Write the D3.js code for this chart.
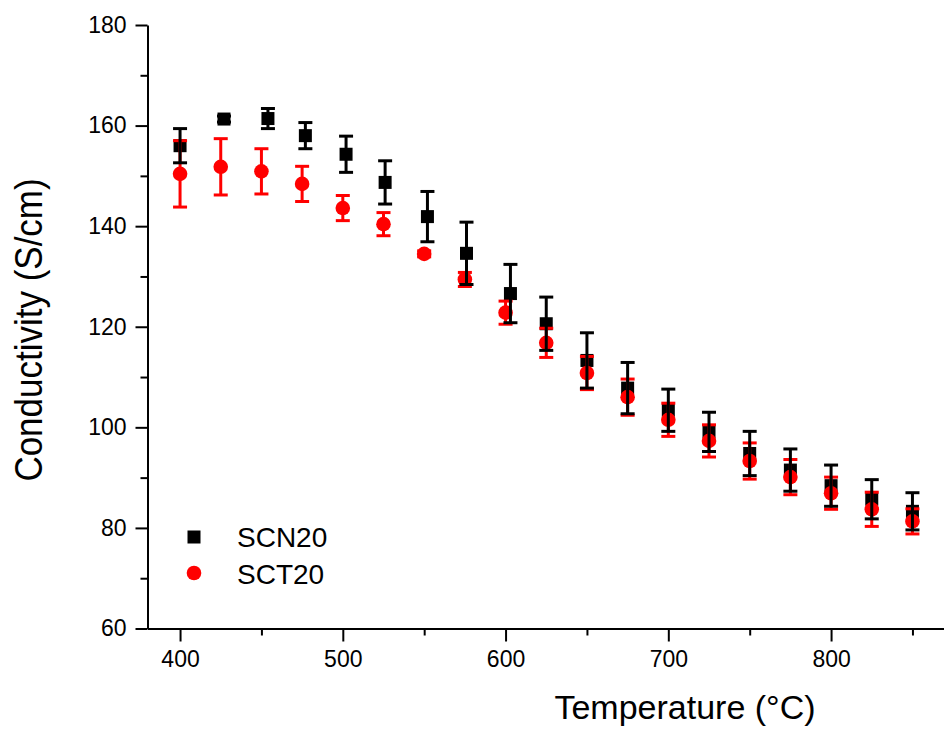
<!DOCTYPE html>
<html lang="en">
<head>
<meta charset="UTF-8">
<title>Conductivity</title>
<script src="https://cdn.jsdelivr.net/npm/d3@7"></script>
<style>
  body { margin: 0; background: #fff; }
  svg text { font-family: "Liberation Sans", Arial, sans-serif; fill: #000; }
</style>
</head>
<body>
<svg width="944" height="729"></svg>
<script>
// data
var tempSCN = [400, 427, 454, 477, 502, 526, 552, 576, 603, 625, 650, 675, 700, 725, 750, 775, 800, 825, 850];
var condSCN = [156.0, 161.3, 161.4, 158.0, 154.3, 148.7, 141.9, 134.6, 126.6, 120.6, 113.3, 107.8, 103.4, 99.1, 94.8, 91.5, 88.4, 85.7, 83.3];
var errSCN  = [3.4, 0.6, 2.0, 2.6, 3.6, 4.3, 5.0, 6.2, 5.8, 5.3, 5.5, 5.1, 4.2, 3.9, 4.4, 4.2, 4.1, 3.9, 3.7];

var tempSCT = [400, 425, 450, 475, 500, 525, 550, 575, 600, 625, 650, 675, 700, 725, 750, 775, 800, 825, 850];
var condSCT = [150.4, 151.8, 150.9, 148.4, 143.6, 140.4, 134.5, 129.4, 122.8, 116.8, 110.8, 106.0, 101.5, 97.3, 93.3, 90.1, 86.9, 83.7, 81.3];
var errSCT  = [6.6, 5.6, 4.5, 3.5, 2.5, 2.3, 0.6, 1.4, 2.3, 2.9, 3.3, 3.6, 3.3, 3.2, 3.6, 3.5, 3.2, 3.4, 2.5];

var xTicks = [400, 500, 600, 700, 800];
var xMinor = [450, 550, 650, 750, 850];
var yTicks = [60, 80, 100, 120, 140, 160, 180];
var yMinor = [70, 90, 110, 130, 150, 170];

var svg = d3.select('svg');

var x = d3.scaleLinear().domain([380, 870]).range([147.5, 945]);
var y = d3.scaleLinear().domain([60, 180]).range([628.5, 25]);

// axes
var axisX = d3.axisBottom(x).tickValues(xTicks).tickSize(13).tickPadding(9).tickSizeOuter(0);
var axisY = d3.axisLeft(y).tickValues(yTicks).tickSize(12).tickPadding(9).tickSizeOuter(0);

var gx = svg.append('g').attr('transform', 'translate(0,' + y(60) + ')').call(axisX);
var gy = svg.append('g').attr('transform', 'translate(' + x(380) + ',0)').call(axisY);

gx.append('g').call(d3.axisBottom(x).tickValues(xMinor).tickSize(7).tickFormat('').tickSizeOuter(0))
  .select('.domain').remove();
gy.append('g').call(d3.axisLeft(y).tickValues(yMinor).tickSize(7).tickFormat('').tickSizeOuter(0))
  .select('.domain').remove();

svg.selectAll('.domain, .tick line').attr('stroke', '#000').attr('stroke-width', 2);
svg.selectAll('.tick text').attr('font-size', 23).attr('fill', '#000');

// axis titles
svg.append('text')
  .attr('x', 685).attr('y', 719)
  .attr('text-anchor', 'middle')
  .attr('font-size', 34)
  .text('Temperature (\u00B0C)');

svg.append('text')
  .attr('transform', 'translate(42,330) rotate(-90) scale(1,1.12)')
  .attr('text-anchor', 'middle')
  .attr('font-size', 35)
  .text('Conductivity (S/cm)');

// error bars
function errorBars(temps, vals, errs, color) {
  var g = svg.append('g').attr('stroke', color).attr('stroke-width', 3);
  temps.forEach(function (t, i) {
    var cx = x(t), top = y(vals[i] + errs[i]), bot = y(vals[i] - errs[i]);
    g.append('line').attr('x1', cx).attr('x2', cx).attr('y1', top).attr('y2', bot);
    g.append('line').attr('x1', cx - 7).attr('x2', cx + 7).attr('y1', top).attr('y2', top);
    g.append('line').attr('x1', cx - 7).attr('x2', cx + 7).attr('y1', bot).attr('y2', bot);
  });
}

var sq = 13;
svg.append('g').selectAll('rect').data(tempSCN).enter().append('rect')
  .attr('x', function (d) { return x(d) - sq / 2; })
  .attr('y', function (d, i) { return y(condSCN[i]) - sq / 2; })
  .attr('width', sq).attr('height', sq)
  .attr('fill', '#000');

errorBars(tempSCT, condSCT, errSCT, '#ff0000');

svg.append('g').selectAll('circle').data(tempSCT).enter().append('circle')
  .attr('cx', function (d) { return x(d); })
  .attr('cy', function (d, i) { return y(condSCT[i]); })
  .attr('r', 7.3)
  .attr('fill', '#ff0000');

errorBars(tempSCN, condSCN, errSCN, '#000');

// legend
var leg = svg.append('g');
leg.append('rect').attr('x', 194 - sq / 2).attr('y', 537 - sq / 2).attr('width', sq).attr('height', sq).attr('fill', '#000');
leg.append('circle').attr('cx', 194).attr('cy', 573).attr('r', 7.3).attr('fill', '#ff0000');
leg.append('text').attr('x', 237).attr('y', 547).attr('font-size', 28).text('SCN20');
leg.append('text').attr('x', 237).attr('y', 584).attr('font-size', 28).text('SCT20');
</script>
</body>
</html>
